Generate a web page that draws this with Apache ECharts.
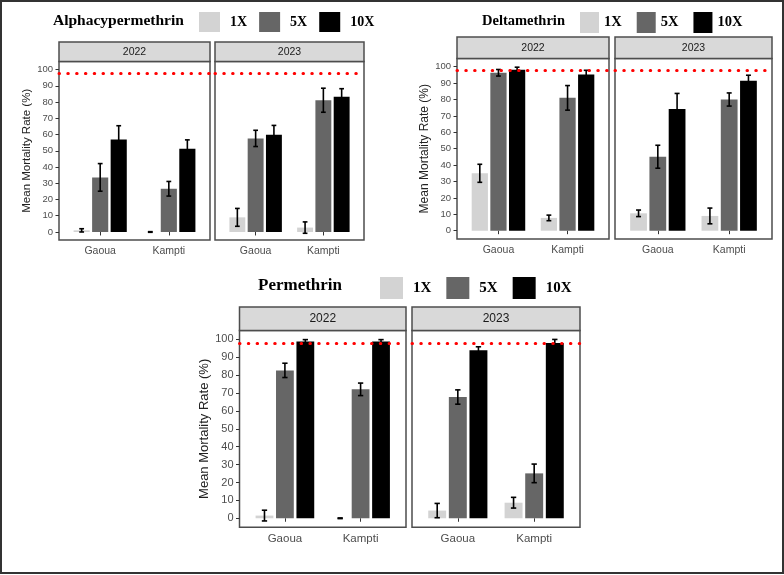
<!doctype html>
<html lang="en">
<head>
<meta charset="UTF-8"/>
<title>Mean Mortality Rate - dose response</title>
<script src="https://cdn.jsdelivr.net/npm/echarts@6/dist/echarts.min.js"></script>
<style>
html, body { margin: 0; padding: 0; background: #fff; }
#chart { width: 784px; height: 575px; }
</style>
</head>
<body>

<div id="chart"></div>

<script>

// ---- data ----
var sites = ['Gaoua', 'Kampti'];
var years = ['2022', '2023'];
var doses = ['1X', '5X', '10X'];
var yTicks = [0, 10, 20, 30, 40, 50, 60, 70, 80, 90, 100];
var threshold = 98;

// rows = dose (1X, 5X, 10X), columns = site (Gaoua, Kampti)
var alpha2022Mean = [[1, 0], [33.6, 26.6], [57, 51.2]];
var alpha2022Err  = [[1, 0.2], [8.5, 4.5], [8.4, 5.5]];
var alpha2023Mean = [[9, 2.7], [57.6, 81.1], [59.8, 83.2]];
var alpha2023Err  = [[5.5, 3.5], [5, 7.4], [5.8, 5]];

var delta2022Mean = [[35, 7.8], [96.3, 81], [98.2, 95.3]];
var delta2022Err  = [[5.5, 1.7], [2, 7.5], [1.5, 2.5]];
var delta2023Mean = [[10.6, 9], [45.1, 80], [74.2, 91.5]];
var delta2023Err  = [[2, 4.8], [7, 4], [9.5, 3.3]];

var perm2022Mean = [[1.5, 0], [82.7, 72.1], [98.9, 98.9]];
var perm2022Err  = [[3, 0.2], [4, 3.5], [1, 1]];
var perm2023Mean = [[4.3, 8.7], [67.8, 25.1], [93.9, 98]];
var perm2023Err  = [[4, 3], [4, 5.2], [2, 2]];

// ---- look ----
var doseColors = ['#d3d3d3', '#666666', '#000000'];
var offsets = [-0.27, 0, 0.27];   // dodge, in x units
var barW = 0.235;
var capHalf = 0.035;

var panels = [
  {
    title: 'Alphacypermethrin', titleLeft: 53, titleTop: 13, titleSize: 15.5,
    legend: { left: 199, top: 12, w: 21, h: 20, size: 14, pad: 5, gap: 12 },
    mean: [alpha2022Mean, alpha2023Mean], err: [alpha2022Err, alpha2023Err],
    grids: [[59, 151], [215, 149]], top: 61.4, height: 178.7, stripTop: 42,
    tickSize: 9.5, xSize: 10.5, stripSize: 10.5, nameSize: 11.5, nameGap: 26
  },
  {
    title: 'Deltamethrin', titleLeft: 482, titleTop: 14, titleSize: 14.5,
    legend: { left: 580, top: 12, w: 19, h: 21, size: 14.5, pad: 0, gap: 15 },
    mean: [delta2022Mean, delta2023Mean], err: [delta2022Err, delta2023Err],
    grids: [[457, 152], [615, 157]], top: 58.5, height: 180.4, stripTop: 37,
    tickSize: 9.5, xSize: 10.5, stripSize: 10.5, nameSize: 12, nameGap: 26
  },
  {
    title: 'Permethrin', titleLeft: 258, titleTop: 277, titleSize: 17,
    legend: { left: 380, top: 277, w: 23, h: 22, size: 15, pad: 5, gap: 15 },
    mean: [perm2022Mean, perm2023Mean], err: [perm2022Err, perm2023Err],
    grids: [[239.5, 166.5], [412, 168]], top: 330.5, height: 196.7, stripTop: 307,
    tickSize: 11, xSize: 11.5, stripSize: 12, nameSize: 13, nameGap: 29
  }
];

function barRender(d) {
  return function (params, api) {
    var cx = api.value(0) + offsets[d];
    var v = api.value(1);
    var a = api.coord([cx - barW / 2, v]);
    var b = api.coord([cx + barW / 2, 0]);
    return {
      type: 'rect',
      shape: { x: a[0], y: a[1], width: b[0] - a[0], height: b[1] - a[1] },
      style: { fill: api.visual('color') }
    };
  };
}

function errRender(params, api) {
  var cx = api.value(0) + offsets[api.value(1)];
  var m = api.value(2), e = api.value(3);
  var t = api.coord([cx, m + e]);
  var b = api.coord([cx, m - e]);
  var l = api.coord([cx - capHalf, 0])[0];
  var r = api.coord([cx + capHalf, 0])[0];
  var st = { stroke: '#000', lineWidth: 1.6 };
  return {
    type: 'group',
    children: [
      { type: 'line', shape: { x1: t[0], y1: t[1], x2: b[0], y2: b[1] }, style: st },
      { type: 'line', shape: { x1: l, y1: t[1], x2: r, y2: t[1] }, style: st },
      { type: 'line', shape: { x1: l, y1: b[1], x2: r, y2: b[1] }, style: st }
    ]
  };
}

var option = {
  backgroundColor: '#fff',
  animation: false,
  title: [], legend: [], grid: [], xAxis: [], yAxis: [], series: [],
  graphic: [
    { type: 'rect', shape: { x: 1, y: 1, width: 782, height: 572 },
      style: { fill: 'none', stroke: '#333', lineWidth: 2 }, z: 100 }
  ]
};

panels.forEach(function (p) {
  option.title.push({
    text: p.title, left: p.titleLeft, top: p.titleTop, padding: 0,
    textStyle: { fontFamily: 'Liberation Serif', fontWeight: 'bold', fontSize: p.titleSize, color: '#000' }
  });
  option.legend.push({
    data: doses, left: p.legend.left, top: p.legend.top, padding: 0,
    icon: 'rect', itemWidth: p.legend.w, itemHeight: p.legend.h, itemGap: p.legend.gap,
    selectedMode: false,
    textStyle: { fontFamily: 'Liberation Serif', fontWeight: 'bold', fontSize: p.legend.size,
                 color: '#000', padding: [0, 0, 0, p.legend.pad] }
  });

  years.forEach(function (yr, yi) {
    var g = option.grid.length;
    var gl = p.grids[yi][0], gw = p.grids[yi][1];
    option.grid.push({
      left: gl, top: p.top, width: gw, height: p.height,
      show: true, borderColor: '#4d4d4d', borderWidth: 1.5, backgroundColor: '#fff'
    });
    option.xAxis.push({
      gridIndex: g, type: 'value', min: 0.4, max: 2.6,
      axisLine: { show: false },
      splitLine: { show: false },
      axisTick: { show: true, length: 3.5, lineStyle: { color: '#333' }, customValues: [1, 2] },
      axisLabel: {
        customValues: [1, 2], margin: 6, color: '#4d4d4d', fontSize: p.xSize,
        fontFamily: 'Liberation Sans',
        formatter: function (v) { return sites[Math.round(v) - 1]; }
      }
    });
    option.yAxis.push({
      gridIndex: g, type: 'value', min: -5, max: 105,
      name: yi === 0 ? 'Mean Mortality Rate (%)' : '',
      nameLocation: 'middle', nameGap: p.nameGap, nameRotate: 90,
      nameTextStyle: { fontFamily: 'Liberation Sans', fontSize: p.nameSize, color: '#222' },
      axisLine: { show: false },
      splitLine: { show: false },
      axisTick: { show: yi === 0, length: 3.5, lineStyle: { color: '#333' }, customValues: yTicks },
      axisLabel: { show: yi === 0, customValues: yTicks, margin: 6, color: '#4d4d4d',
                   fontSize: p.tickSize, fontFamily: 'Liberation Sans' }
    });

    doses.forEach(function (ds, d) {
      option.series.push({
        name: ds, type: 'custom', xAxisIndex: g, yAxisIndex: g,
        itemStyle: { color: doseColors[d] },
        renderItem: barRender(d),
        encode: { x: 0, y: 1 },
        data: sites.map(function (s, si) { return [si + 1, p.mean[yi][d][si]]; }),
        z: 2
      });
    });

    var errData = [];
    doses.forEach(function (ds, d) {
      sites.forEach(function (s, si) {
        errData.push([si + 1, d, p.mean[yi][d][si], p.err[yi][d][si]]);
      });
    });
    option.series.push({
      name: 'err', type: 'custom', xAxisIndex: g, yAxisIndex: g,
      renderItem: errRender,
      encode: { x: 0, y: 2 },
      data: errData,
      z: 3,
      markLine: {
        silent: true, symbol: 'none', label: { show: false },
        lineStyle: { color: '#ff0000', width: 3, type: [0.5, 8.3], cap: 'round' },
        data: [{ yAxis: threshold }]
      }
    });

    // facet strip
    option.graphic.push({
      type: 'rect',
      shape: { x: gl, y: p.stripTop, width: gw, height: p.top - p.stripTop },
      style: { fill: '#d9d9d9', stroke: '#4d4d4d', lineWidth: 1.5 }
    });
    option.graphic.push({
      type: 'text', x: gl + gw / 2, y: (p.stripTop + p.top) / 2,
      style: { text: yr, fill: '#1a1a1a', fontSize: p.stripSize, fontFamily: 'Liberation Sans',
               align: 'center', verticalAlign: 'middle' }
    });
  });
});

var myChart = echarts.init(document.getElementById('chart'));
myChart.setOption(option);

</script>

</body>
</html>
